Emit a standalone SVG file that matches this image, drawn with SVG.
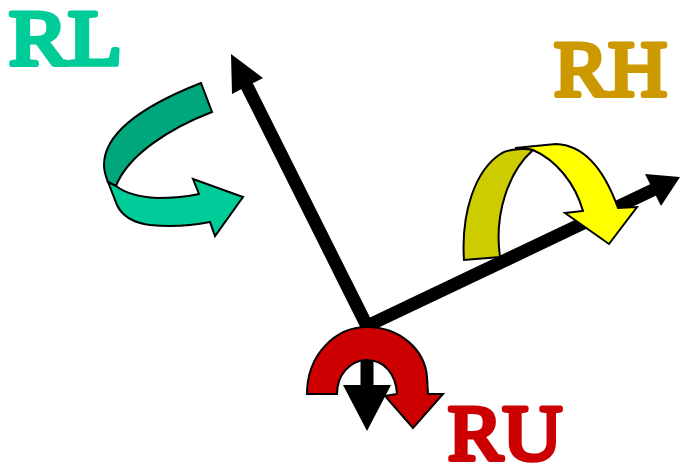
<svg xmlns="http://www.w3.org/2000/svg" width="680" height="464" viewBox="0 0 680 464">
<style>
.lbl{font-family:"Liberation Serif","DejaVu Serif",serif;font-size:78px;stroke-width:5;stroke-linejoin:round}
.o{stroke:#000;stroke-width:2;stroke-linejoin:miter}
.a{stroke:#000;stroke-width:13;fill:none}
</style>
<rect width="680" height="464" fill="#fff"/>
<g id="connectors">
<path class="a" d="M367 326L243 78"/>
<path d="M231 54L263 78L232 94Z"/>
<path class="a" d="M367 326L655 189"/>
<path d="M680 177L645 174L661 206Z"/>
<path class="a" d="M367 326V392"/>
<path d="M343 385H391L367 431Z"/>
</g>
<g id="rl">
<path class="o" fill="#00A67C" d="M201 83C150 103 104 130 104 165C104 172 106 177 108 182L116 186C128 155 170 128 212 112Z"/>
<path class="o" fill="#00CC99" d="M108 182L117 205C123 218 135 223 150 225C170 227 190 226 210 222L215 236L243 197L193 179L199 194C186 197 172 198 157 198C140 197 125 193 116 186Z"/>
<text class="lbl" x="9" y="64" fill="#00CC99" stroke="#00CC99" textLength="113" lengthAdjust="spacingAndGlyphs">RL</text>
</g>
<g id="rh">
<path class="o" fill="#CCCC00" d="M464 260C461 215 474 170 502 153C510 149 525 148 533 150C508 172 494 215 500 257Z"/>
<path class="o" fill="#FFFF00" d="M515 148L556 144C585 145 605 172 618 208L637 207L609 244L565 213L583 211C575 183 556 160 533 150C527 148 520 148 515 148Z"/>
<text class="lbl" x="554" y="95" fill="#CC9900" stroke="#CC9900" textLength="113" lengthAdjust="spacingAndGlyphs">RH</text>
</g>
<g id="ru">
<path class="o" fill="#CC0000" d="M307 394C307 355 335 327 367 327C400 327 425 350 427 377L428 394H443L413 428L385 396L397 394C396 375 385 360 367 360C350 360 337 375 337 394Z"/>
<text class="lbl" x="448" y="459" fill="#CC0000" stroke="#CC0000" textLength="114" lengthAdjust="spacingAndGlyphs">RU</text>
</g>
</svg>
